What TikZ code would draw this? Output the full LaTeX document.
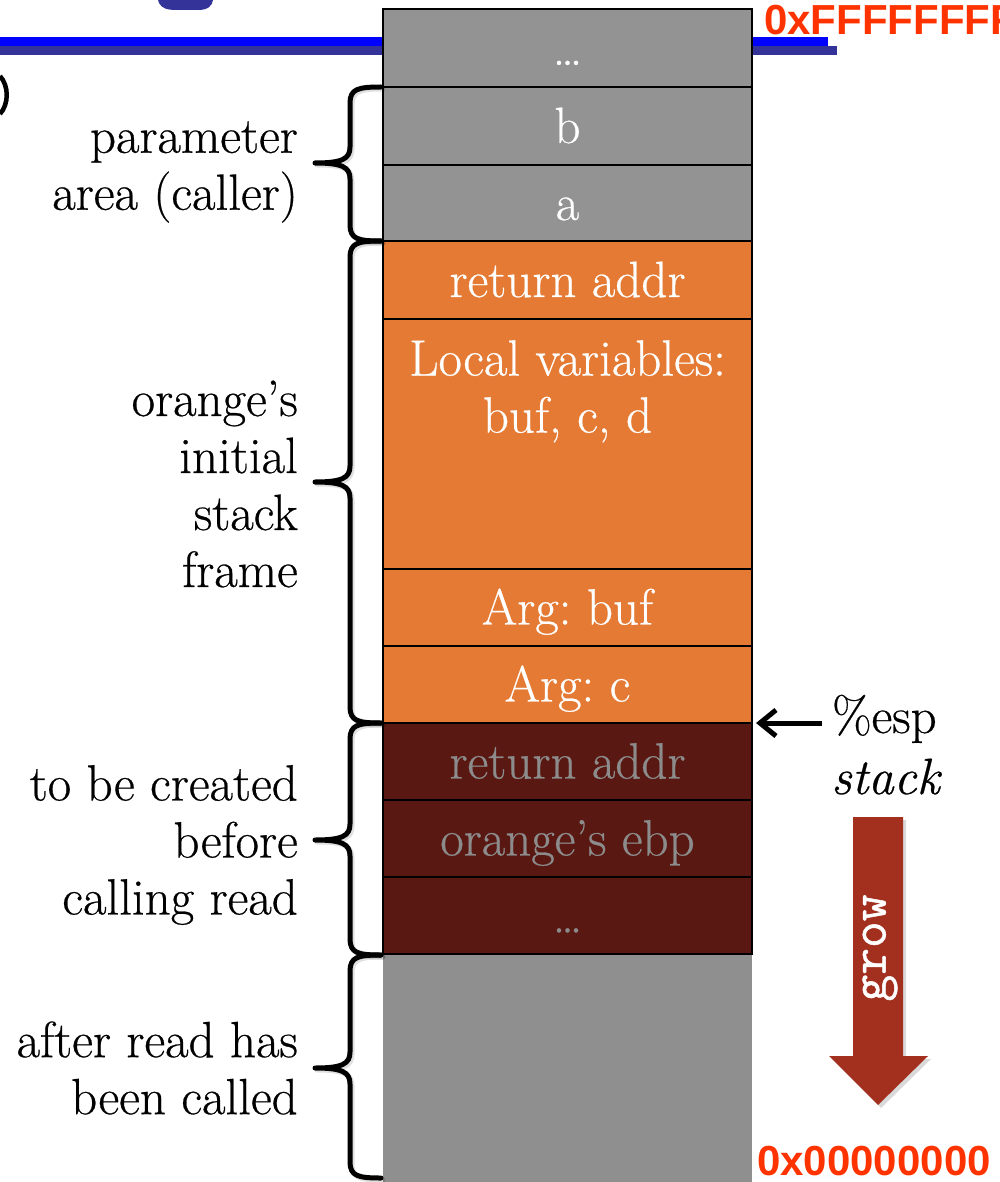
\documentclass[tikz,border=0pt]{standalone}
\usepackage{fontspec}
\setmainfont{Latin Modern Roman}[FakeBold=0.5]
\newfontfamily\hexfont{Liberation Sans}
\newfontfamily\growfont{Latin Modern Mono}[FakeBold=1]
\usetikzlibrary{arrows.meta}
\frenchspacing

\definecolor{slotgray}{HTML}{939393}
\definecolor{freegray}{HTML}{8F8F8F}
\definecolor{frameorange}{HTML}{E47A33}
\definecolor{pendmaroon}{HTML}{5A1812}
\definecolor{pendtext}{HTML}{8C8C8C}
\definecolor{growred}{HTML}{A3301F}
\definecolor{addrred}{HTML}{FF3300}
\definecolor{rulebright}{HTML}{0000FF}
\definecolor{ruledark}{HTML}{333399}

\tikzset{
  big/.style={font=\fontsize{51}{57}\selectfont},
  slot/.style={draw=black, line width=2pt, minimum width=369pt, inner sep=0pt,
    outer sep=0pt, big, text height=42pt, text depth=8pt},
  grayslot/.style={slot, fill=slotgray, text=white},
  orangeslot/.style={slot, fill=frameorange, text=white},
  pendslot/.style={slot, fill=pendmaroon, text=pendtext},
  sidelabel/.style={big, align=right, anchor=east, inner sep=0pt},
  bracestroke/.style={line width=5pt, line join=round, line cap=round},
  braceshade/.style={line width=5pt, line join=round, line cap=round,
    draw=black, opacity=0.12},
  hexlabel/.style={anchor=base west, inner sep=0pt, text=addrred,
    font=\hexfont\bfseries\fontsize{42}{42}\selectfont},
}

% curly brace at x = 315..381 from y=#1 to y=#3 with its tip at y=#2
\newcommand\stackbrace[4]{%
  \draw[#4] (381,#1) .. controls (358,#1) and (350,{#1+2}) .. (350,{#1+16})
    -- (350,{#2-16}) .. controls (350,{#2-4}) and (342,#2) .. (315,#2)
    .. controls (342,#2) and (350,{#2+4}) .. (350,{#2+16})
    -- (350,{#3-16}) .. controls (350,{#3-2}) and (358,#3) .. (381,#3);}

\begin{document}
\begin{tikzpicture}[x=1pt,y=-1pt]
\useasboundingbox (0,0) rectangle (1000,1182);

% title rule and fragments of the slide heading
\fill[rulebright] (0,37) rectangle (828,46);
\fill[ruledark] (0,46) rectangle (837,55);
\fill[ruledark] (158,0) -- (159,3) .. controls (162,9) and (168,10) .. (178,10)
  -- (198,10) .. controls (208,10) and (212,6) .. (213,0) -- cycle;
\draw[line width=4.5pt] (0,76) .. controls (9,86) and (9,104) .. (0,114);

% unused stack space below the frames
\node[fill=freegray, minimum width=369pt, minimum height=240pt, inner sep=0pt,
  anchor=north] (free) at (567.5,954) {};

% stack slots, top (high addresses) to bottom
\node[grayslot, minimum height=78pt] (s1) at (567.5,48) {\ldots};
\node[grayslot, minimum height=78pt] (s2) at (567.5,126) {b};
\node[grayslot, minimum height=76pt] (s3) at (567.5,203) {a};
\node[orangeslot, minimum height=78pt] (s4) at (567.5,280) {return addr};
\node[orangeslot, minimum height=250pt] (s5) at (567.5,444) {};
\node[big, text=white, align=center, anchor=north, inner sep=0pt] (s5txt)
  at (567.5,340) {Local variables:\\buf, c, d};
\node[orangeslot, minimum height=77pt] (s6) at (567.5,607.5) {Arg: buf};
\node[orangeslot, minimum height=77pt] (s7) at (567.5,684.5) {Arg: c};
\node[pendslot, minimum height=77pt] (s8) at (567.5,761.5) {return addr};
\node[pendslot, minimum height=77pt] (s9) at (567.5,838.5) {orange’s ebp};
\node[pendslot, minimum height=77pt] (s10) at (567.5,915.5) {\ldots};

% braces grouping the slots
\begin{scope}[shift={(2,2)}]
  \stackbrace{87}{163}{241}{braceshade}
  \stackbrace{241}{482}{723}{braceshade}
  \stackbrace{723}{840}{955}{braceshade}
  \stackbrace{955}{1068}{1178}{braceshade}
\end{scope}
\stackbrace{87}{163}{241}{bracestroke}
\stackbrace{241}{482}{723}{bracestroke}
\stackbrace{723}{840}{955}{bracestroke}
\stackbrace{955}{1068}{1178}{bracestroke}

% group labels
\node[sidelabel] (lbl1) at (298,172) {parameter\\area (caller)};
\node[sidelabel] (lbl2) at (298,484) {orange’s\\initial\\stack\\frame};
\node[sidelabel] (lbl3) at (298,845) {to be created\\before\\calling read};
\node[sidelabel] (lbl4) at (298,1068) {after read has\\been called};

% stack pointer
\node[big, anchor=base west, inner sep=0pt] (esp) at (832,733) {\%esp};
\node[anchor=base west, inner sep=0pt, font=\fontsize{51}{57}\selectfont\itshape]
  (stk) at (831,794) {stack};
\coordinate (esptail) at (822,723);
\draw[line width=5pt, -{Straight Barb[length=16pt,width=26pt]}]
  (esptail) -- ([xshift=4pt]s8.north east);

% growth direction arrow
\fill[black, opacity=0.15] (856,820) -- (906,820) -- (906,1059) -- (931,1059)
  -- (881,1108) -- (832,1059) -- (856,1059) -- cycle;
\fill[growred] (853,817) -- (903,817) -- (903,1056) -- (928,1056)
  -- (878,1105) -- (829,1056) -- (853,1056) -- cycle;
\node[rotate=90, text=white, inner sep=0pt,
  font=\growfont\fontsize{52}{52}\selectfont] (grow) at (880,948) {grow};

% address range
\node[hexlabel] (hitop) at (764,35) {0xFFFFFFFF};
\node[hexlabel] (lobot) at (757,1175) {0x00000000};
\end{tikzpicture}
\end{document}
